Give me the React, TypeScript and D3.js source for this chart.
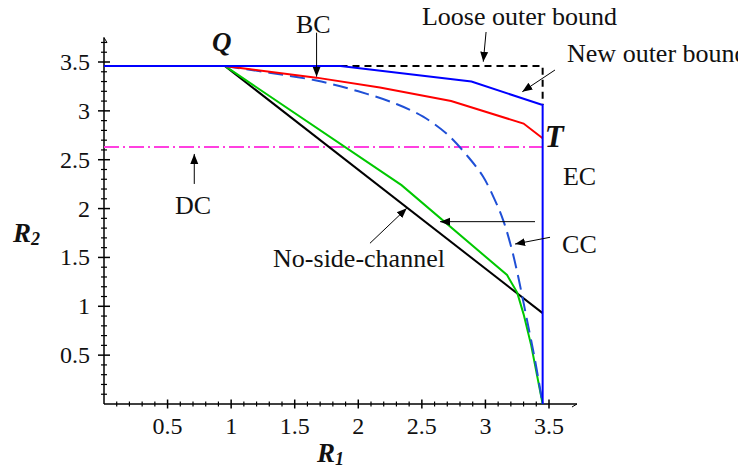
import { useEffect, useRef } from 'react'
import * as d3 from 'd3'

type Pt = [number, number]

// tick values
const xTicks = [0.5, 1, 1.5, 2, 2.5, 3, 3.5]
const yTicks = [0.5, 1, 1.5, 2, 2.5, 3, 3.5]

// curves (R1, R2)
const newOuter: Pt[] = [[0, 3.46], [1.86, 3.46], [2.89, 3.3], [3.45, 3.06], [3.45, 0]]
const looseOuter: Pt[] = [[1.86, 3.46], [3.45, 3.46], [3.45, 3.06]]
const bcRegion: Pt[] = [[0.95, 3.46], [1.67, 3.34], [2.17, 3.24], [2.73, 3.1], [3.3, 2.87], [3.45, 2.72]]
const ccRegion: Pt[] = [
  [0.95, 3.46], [1.3, 3.39], [1.67, 3.31], [2.0, 3.2], [2.3, 3.07], [2.51, 2.94], [2.7, 2.76],
  [2.87, 2.52], [2.98, 2.33], [3.07, 2.1], [3.14, 1.88], [3.2, 1.62], [3.25, 1.35], [3.29, 1.1],
  [3.33, 0.84], [3.39, 0.45], [3.45, 0],
]
const ecRegion: Pt[] = [[0.95, 3.46], [2.34, 2.24], [3.17, 1.32], [3.25, 1.14], [3.3, 0.92], [3.36, 0.6], [3.45, 0]]
const noSide: Pt[] = [[0.95, 3.46], [3.45, 0.93]]
const dcRegion: Pt[] = [[0, 2.63], [3.45, 2.63]]

// annotation arrows: [from, to]
const arrows: [Pt, Pt][] = [
  [[1.672, 3.8], [1.672, 3.35]],
  [[3.005, 3.807], [2.983, 3.503]],
  [[3.547, 3.418], [3.29, 3.196]],
  [[3.39, 1.866], [2.643, 1.866]],
  [[3.508, 1.706], [3.233, 1.637]],
  [[0.71, 2.252], [0.71, 2.559]],
  [[2.092, 1.645], [2.381, 2.003]],
]

const labels: { text: string; at: Pt; anchor?: string }[] = [
  { text: 'BC', at: [1.51, 3.8] },
  { text: 'Loose outer bound', at: [2.501, 3.879] },
  { text: 'New outer bound', at: [3.642, 3.5] },
  { text: 'EC', at: [3.61, 2.24] },
  { text: 'CC', at: [3.603, 1.545] },
  { text: 'DC', at: [0.558, 1.945] },
  { text: 'No-side-channel', at: [1.33, 1.402] },
]

export default function App() {
  const svgRef = useRef<SVGSVGElement>(null)

  useEffect(() => {
    if (!svgRef.current) return
    const width = 738
    const height = 476
    const svg = d3.select(svgRef.current)
    svg.selectAll('*').remove()
    svg.attr('width', width).attr('height', height)

    const x = d3.scaleLinear().domain([0, 3.5]).range([104, 549])
    const y = d3.scaleLinear().domain([0, 3.5]).range([404, 62])
    const font = '"Liberation Serif", "Times New Roman", serif'

    svg.append('defs').append('marker')
      .attr('id', 'ah').attr('viewBox', '0 0 10 10')
      .attr('refX', 10).attr('refY', 5)
      .attr('markerWidth', 10).attr('markerHeight', 10)
      .attr('markerUnits', 'userSpaceOnUse')
      .attr('orient', 'auto')
      .append('path').attr('d', 'M0,1 L10,5 L0,9 z').attr('fill', '#000')

    // Axes
    const ax = svg.append('g').attr('stroke', '#000')
    ax.append('line').attr('x1', x(0)).attr('x2', x(3.72)).attr('y1', y(0)).attr('y2', y(0)).attr('stroke-width', 1.5)
    ax.append('line').attr('x1', x(0)).attr('x2', x(0)).attr('y1', y(0)).attr('y2', y(3.75)).attr('stroke-width', 1.5)
    ax.append('line').attr('x1', x(3.72)).attr('y1', y(0))
      .attr('x2', x(3.72) - 5).attr('y2', y(0) + 3).attr('stroke-width', 1)
    ax.append('line').attr('x1', x(0)).attr('y1', y(3.75))
      .attr('x2', x(0) + 3).attr('y2', y(3.75) + 5).attr('stroke-width', 1)

    const minorX = d3.range(1, 36).map(i => i / 10)
    const minorY = d3.range(1, 38).map(i => i / 10)
    minorX.forEach(v => {
      const major = Math.abs(v * 2 - Math.round(v * 2)) < 1e-6
      const s = major ? 4.5 : 2.5
      ax.append('line').attr('x1', x(v)).attr('x2', x(v)).attr('y1', y(0) - s).attr('y2', y(0) + s)
        .attr('stroke-width', major ? 1.5 : 1.2)
    })
    minorY.forEach(v => {
      const major = Math.abs(v * 2 - Math.round(v * 2)) < 1e-6
      const s = major ? 6 : 3
      ax.append('line').attr('y1', y(v)).attr('y2', y(v)).attr('x1', x(0) - s).attr('x2', x(0) + s)
        .attr('stroke-width', major ? 1.5 : 1.2)
    })

    const tl = svg.append('g').attr('font-family', font).attr('font-size', 24).attr('fill', '#111')
    xTicks.forEach(v => {
      tl.append('text').attr('x', x(v)).attr('y', 434).attr('text-anchor', 'middle').text(String(v))
    })
    yTicks.forEach(v => {
      tl.append('text').attr('x', 90).attr('y', y(v) + 8).attr('text-anchor', 'end').text(String(v))
    })

    // Curves
    const line = d3.line<Pt>().x(d => x(d[0])).y(d => y(d[1]))
    const draw = (data: Pt[], color: string, w: number, dash?: string, curve?: d3.CurveFactory) => {
      svg.append('path')
        .attr('d', (curve ? line.curve(curve) : line.curve(d3.curveLinear))(data))
        .attr('fill', 'none').attr('stroke', color).attr('stroke-width', w)
        .attr('stroke-dasharray', dash ?? null)
    }
    draw(dcRegion, '#ff40e0', 2, '15,4,2,4')
    draw(noSide, '#000000', 2)
    draw(ecRegion, '#00c800', 2)
    draw(ccRegion, '#1f4fd6', 2, '15,7', d3.curveCatmullRom)
    draw(bcRegion, '#ff0000', 2)
    draw(looseOuter, '#000000', 2, '7,5')
    draw(newOuter, '#0000ff', 2)

    // Arrows
    arrows.forEach(([a, b]) => {
      svg.append('line')
        .attr('x1', x(a[0])).attr('y1', y(a[1])).attr('x2', x(b[0])).attr('y2', y(b[1]))
        .attr('stroke', '#000').attr('stroke-width', 1).attr('marker-end', 'url(#ah)')
    })

    // Labels
    const lg = svg.append('g').attr('font-family', font).attr('font-size', 26).attr('fill', '#111')
    labels.forEach(l => {
      lg.append('text').attr('x', x(l.at[0])).attr('y', y(l.at[1]))
        .attr('text-anchor', l.anchor ?? 'start').text(l.text)
    })

    const bi = svg.append('g').attr('font-family', font).attr('font-weight', 'bold')
      .attr('font-style', 'italic').attr('fill', '#111')
    bi.append('text').attr('x', x(0.95) - 3).attr('y', 51).attr('text-anchor', 'middle')
      .attr('font-size', 27).text('Q')
    bi.append('text').attr('x', x(3.45) + 2).attr('y', 147).attr('font-size', 31).text('T')

    const r2 = bi.append('text').attr('x', 13).attr('y', 242).attr('font-size', 27)
    r2.append('tspan').text('R')
    r2.append('tspan').attr('font-size', 18).attr('dy', 3).text('2')
    const r1 = bi.append('text').attr('x', 317).attr('y', 462).attr('font-size', 27)
    r1.append('tspan').text('R')
    r1.append('tspan').attr('font-size', 18).attr('dy', 3).text('1')
  }, [])

  return (
    <div style={{ position: 'absolute', left: 0, top: 0 }}>
      <svg ref={svgRef} style={{ display: 'block' }} />
    </div>
  )
}
